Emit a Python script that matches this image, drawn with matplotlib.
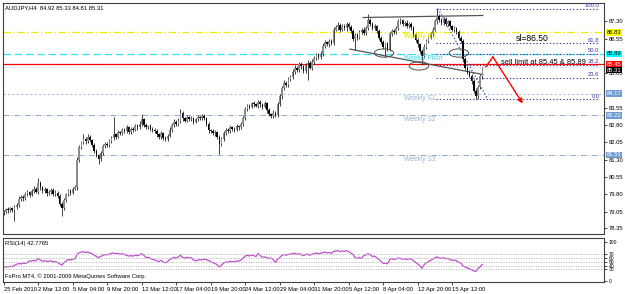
import numpy as np
import matplotlib
matplotlib.use("Agg")
import matplotlib.pyplot as plt
from matplotlib.patches import Ellipse
import matplotlib.transforms as mtrans

plt.rcParams['font.family'] = ['Liberation Sans', 'DejaVu Sans']

# ---- data (AUDJPY H4) ----
closes = [
    79.05, 79.15, 79.10, 79.20, 79.12, 79.25, 79.35, 79.60, 79.70, 79.62,
    79.80, 79.90, 79.78, 79.95, 80.05, 79.92, 80.30, 80.10, 79.95, 80.02,
    79.85, 79.90, 80.00, 79.80, 79.88, 79.75, 79.40, 79.20, 79.55, 79.80,
    79.95, 79.88, 80.05, 80.10, 81.30, 81.85, 82.05, 82.20, 82.10, 82.30,
    82.15, 81.95, 81.70, 81.50, 81.35, 81.60, 81.90, 82.00, 81.95, 82.10,
    82.25, 82.40, 82.30, 82.50, 82.45, 82.60, 82.55, 82.70, 82.50, 82.65,
    82.60, 82.75, 82.70, 82.85, 83.05, 82.80, 82.70, 82.75, 82.65, 82.60,
    82.55, 82.40, 82.30, 82.45, 82.25, 82.20, 82.35, 82.60, 82.80, 82.95,
    82.85, 83.00, 83.35, 83.10, 83.00, 83.15, 83.05, 83.10, 82.95, 83.05,
    83.15, 83.10, 83.20, 83.10, 82.85, 82.60, 82.55, 82.45, 82.50, 82.30,
    82.00, 82.20, 82.45, 82.60, 82.55, 82.70, 82.65, 82.60, 82.75, 82.70,
    82.85, 83.10, 83.50, 83.65, 83.60, 83.75, 83.70, 83.65, 83.80, 83.70,
    83.60, 83.75, 83.45, 83.30, 83.20, 83.35, 83.25, 83.70, 84.05, 84.40,
    84.65, 84.55, 84.80, 84.90, 85.10, 85.30, 85.20, 85.45, 85.35, 85.15,
    85.40, 85.50, 85.30, 85.55, 85.70, 85.85, 85.75, 85.90, 86.25, 86.40,
    86.30, 86.45, 86.35, 86.95, 87.05, 87.15, 86.95, 87.10, 87.00, 87.20,
    87.05, 86.90, 86.55, 86.70, 86.60, 86.85, 86.95, 86.80, 87.00, 87.35,
    87.20, 87.00, 87.10, 86.90, 86.60, 86.40, 86.20, 86.35, 86.10, 86.75,
    86.90, 86.85, 87.00, 87.30, 87.35, 87.20, 87.25, 87.10, 87.20, 87.05,
    86.75, 86.50, 86.30, 86.00, 85.80, 86.20, 86.45, 86.60, 86.75, 86.95,
    87.30, 87.55, 87.35, 87.25, 87.40, 87.20, 87.30, 87.10, 86.95, 87.00,
    86.85, 86.60, 86.45, 85.65, 85.30, 85.10, 84.95, 84.70, 84.30, 84.05,
    84.45, 84.92, 85.31]
first_open = 79.00

# wick lengths above / below the body, in hundredths of a yen
wick_up = [
    8, 6, 9, 5, 7, 10, 6, 12, 8, 7,
    9, 10, 6, 8, 12, 7, 20, 9, 6, 8,
    7, 10, 8, 6, 9, 5, 8, 6, 10, 7,
    8, 9, 6, 10, 12, 10, 8, 20, 9, 12,
    8, 6, 9, 7, 5, 10, 8, 9, 6, 11,
    8, 75, 7, 10, 6, 9, 8, 12, 7, 9,
    6, 10, 8, 11, 25, 7, 9, 6, 8, 5,
    7, 9, 6, 10, 5, 8, 7, 12, 9, 10,
    6, 11, 15, 8, 6, 10, 7, 9, 5, 8,
    10, 7, 9, 10, 6, 8, 5, 7, 9, 6,
    8, 10, 9, 7, 8, 10, 6, 9, 11, 7,
    9, 12, 10, 8, 9, 7, 10, 6, 9, 8,
    7, 10, 6, 8, 5, 9, 7, 12, 10, 9,
    11, 7, 10, 8, 12, 9, 7, 10, 8, 6,
    9, 11, 7, 10, 9, 8, 6, 12, 10, 9,
    7, 10, 8, 10, 9, 11, 7, 10, 8, 9,
    6, 8, 7, 10, 8, 9, 7, 10, 9, 27,
    8, 7, 10, 6, 8, 5, 9, 7, 6, 10,
    8, 9, 11, 10, 8, 7, 9, 10, 8, 6,
    7, 5, 8, 6, 9, 10, 8, 9, 11, 10,
    12, 31, 9, 10, 8, 9, 7, 8, 6, 9,
    7, 8, 6, 10, 9, 7, 8, 6, 9, 10,
    8, 9, 2]
wick_dn = [
    10, 8, 12, 7, 9, 47, 8, 10, 7, 9,
    8, 9, 10, 7, 9, 8, 10, 12, 9, 8,
    10, 7, 9, 8, 6, 10, 9, 35, 8, 10,
    7, 9, 8, 6, 12, 10, 9, 8, 10, 7,
    9, 8, 12, 10, 25, 9, 8, 7, 10, 9,
    8, 9, 10, 7, 9, 8, 10, 7, 9, 8,
    10, 7, 9, 8, 10, 9, 7, 8, 10, 9,
    8, 10, 12, 9, 10, 8, 9, 7, 8, 9,
    10, 8, 9, 10, 8, 7, 9, 8, 10, 7,
    9, 8, 7, 9, 10, 12, 8, 9, 10, 12,
    45, 10, 9, 8, 10, 7, 9, 8, 7, 9,
    8, 10, 9, 8, 10, 7, 9, 8, 10, 9,
    8, 7, 10, 12, 9, 8, 10, 9, 8, 10,
    9, 8, 10, 9, 8, 10, 9, 8, 12, 10,
    9, 63, 8, 9, 10, 8, 9, 7, 10, 9,
    8, 10, 9, 8, 7, 10, 12, 8, 9, 10,
    8, 9, 10, 47, 9, 8, 10, 7, 9, 8,
    10, 9, 8, 10, 12, 9, 10, 45, 10, 8,
    9, 8, 10, 7, 9, 8, 10, 9, 8, 10,
    12, 10, 9, 8, 40, 9, 8, 10, 7, 9,
    8, 10, 7, 9, 10, 8, 9, 10, 8, 9,
    10, 9, 8, 12, 10, 9, 8, 10, 9, 13,
    10, 8, 11]

rsi = [
    36, 37, 36, 38, 37, 40, 43, 45, 44, 46,
    45, 48, 52, 51, 53, 52, 58, 54, 51, 52,
    50, 51, 52, 49, 50, 48, 44, 41, 47, 52,
    55, 54, 56, 57, 68, 73, 74, 75, 73, 74,
    72, 70, 66, 63, 60, 63, 66, 68, 67, 69,
    71, 72, 70, 71, 69, 70, 68, 66, 64, 65,
    64, 66, 65, 67, 70, 66, 60, 61, 58, 56,
    54, 52, 50, 53, 49, 47, 50, 55, 58, 61,
    58, 62, 66, 61, 58, 61, 59, 60, 54, 52,
    53, 55, 54, 56, 55, 53, 50, 47, 45, 42,
    36, 41, 46, 49, 48, 51, 50, 49, 52, 51,
    54, 59, 64, 66, 64, 67, 65, 63, 71, 65,
    61, 62, 60, 58, 59, 55, 48, 55, 60, 66,
    68, 66, 68, 69, 70, 71, 68, 70, 68, 65,
    68, 69, 66, 69, 70, 72, 70, 71, 73, 74,
    72, 73, 71, 76, 77, 78, 75, 77, 76, 78,
    75, 72, 68, 60, 58, 60, 58, 65, 67, 70,
    67, 63, 64, 60, 55, 51, 45, 46, 44, 55,
    58, 55, 57, 59, 58, 56, 57, 55, 57, 57,
    52, 48, 44, 39, 33, 42, 47, 50, 53, 56,
    60, 62, 59, 58, 60, 57, 58, 55, 53, 54,
    52, 48, 46, 39, 36, 34, 32, 29, 26, 25,
    33, 37, 42.78]

date_labels = ["25 Feb 2010", "2 Mar 12:00", "5 Mar 04:00", "9 Mar 20:00",
               "12 Mar 12:00", "17 Mar 04:00", "19 Mar 20:00", "24 Mar 12:00",
               "29 Mar 04:00", "31 Mar 20:00", "5 Apr 12:00", "8 Apr 04:00",
               "12 Apr 20:00", "15 Apr 12:00"]
bars_per_label = 16

price_ticks = [87.30, 86.55, 85.05, 83.55, 82.80, 82.05, 81.30, 80.55, 79.80, 79.05, 78.35]

# weekly pivots
r1, pivot, s1, s2, s3 = 86.83, 85.89, 84.17, 83.23, 81.51
sell_level, bid = 85.45, 85.31
# fibo retracement
fib_hi, fib_lo = 87.86, 83.92
fib_levels = [100.0, 61.8, 50.0, 38.2, 23.6, 0.0]

small = 4.2

# ---- figure ----
fig = plt.figure(figsize=(6.25, 2.94), dpi=100)
ax = fig.add_axes([3/625, 60/294, 601/625, 231/294])
rax = fig.add_axes([3/625, 12/294, 601/625, 44/294], sharex=ax)

n = len(closes)
x = np.arange(n)
c = np.array(closes)
o = np.concatenate([[first_open], c[:-1]])
hi = np.maximum(o, c) + np.array(wick_up) / 100
lo = np.minimum(o, c) - np.array(wick_dn) / 100
bull = c >= o

ax.vlines(x, lo, hi, color='#222222', lw=0.6, zorder=3)
body = np.maximum(np.abs(c - o), 0.03)
ax.bar(x, body, bottom=np.minimum(o, c), width=0.72,
       color=np.where(bull, '#8c8c8c', '#000000'), lw=0, zorder=4)

ax.set_xlim(-0.3, 278.4)
ax.set_ylim(78.08, 88.10)

# horizontal levels
ax.axhline(r1, color='#eeee00', ls=(0, (6, 2, 1, 2)), lw=0.9, zorder=2)
ax.axhline(pivot, color='#33e0f0', ls=(0, (6, 3)), lw=0.9, zorder=2)
ax.axhline(sell_level, color='#ff0000', lw=0.9, zorder=2)
ax.axhline(bid, color='#c4cad8', ls=':', lw=0.7, zorder=2)
ax.axhline(s1, color='#a9c2e2', ls=(0, (2, 2)), lw=0.8, zorder=2)
ax.axhline(s2, color='#8fabcc', ls=(0, (6, 2, 1, 2)), lw=0.7, zorder=2)
ax.axhline(s3, color='#8fabcc', ls=(0, (6, 2, 1, 2)), lw=0.7, zorder=2)

for txt, lvl, col in [("Weekly R1", r1, '#e2e200'), ("Weekly Pivot", pivot, '#30d8e8'),
                      ("Weekly S1", s1, '#9ab4d6'), ("Weekly S2", s2, '#9ab4d6'),
                      ("Weekly S3", s3, '#9ab4d6')]:
    ax.text(185.5, lvl - 0.04, txt, color=col, fontsize=4.8, va='top', ha='left', zorder=5)

# fibonacci
fx0, fx1 = 200.5, 276.0
for lv in fib_levels:
    p = fib_lo + (fib_hi - fib_lo) * lv / 100
    ax.plot([fx0, fx1], [p, p], color='#3a3a9a', ls=(0, (1.2, 1.8)), lw=0.8, zorder=3)
    ax.text(fx1 + 0.3, p + 0.02, f"{lv:.1f}", color='#3a3a9a', fontsize=small,
            ha='right', va='bottom', zorder=5)
ax.plot([201.4, 224.5], [fib_hi, fib_lo], color='#3a3a9a', ls=(0, (1.2, 1.8)), lw=0.8, zorder=3)

# trend lines
ax.plot([166.7, 222.2], [87.47, 87.56], color='#555555', lw=0.9, zorder=3)
ax.plot([160.6, 222.2], [86.10, 85.00], color='#555555', lw=0.9, zorder=3)
for ex, ey in [(176.4, 85.93), (192.6, 85.37), (211.1, 85.93)]:
    ax.add_patch(Ellipse((ex, ey), 9.0, 0.36, fill=False, ec='#505050', lw=0.7, zorder=5))

# trade idea
ax.plot([223.6, 226.9], [85.33, 85.76], color='#ff0000', lw=1.0, zorder=6)
ax.annotate('', xy=(240.7, 83.74), xytext=(226.9, 85.76),
            arrowprops=dict(arrowstyle='-|>', color='#ff0000', lw=1.0,
                            mutation_scale=7, shrinkA=0, shrinkB=0), zorder=6)
ax.text(237.5, 86.55, "sl=86.50", fontsize=6.2, color='black', va='center', zorder=6)
ax.text(230.5, 85.50, "sell limit at 85.45 & 85.89", fontsize=5.4, color='black',
        va='center', zorder=6)

ax.text(0.003, 0.99, "AUDJPY,H4  84.92 85.33 84.81 85.31", transform=ax.transAxes,
        fontsize=small, va='top', ha='left')

# right price scale
ax.yaxis.tick_right()
ax.set_yticks(price_ticks)
ax.set_yticklabels([f"{t:.2f}" for t in price_ticks])
ax.tick_params(axis='y', labelsize=small, length=2, pad=1.5, width=0.5)
ax.tick_params(axis='x', bottom=False, labelbottom=False)

tr = mtrans.blended_transform_factory(ax.transAxes, ax.transData)
for val, fc, tc in [(r1, '#ffff00', 'black'), (pivot, '#00ffff', 'black'),
                    (sell_level, '#ff0000', 'white'), (s1, '#6f9bd0', 'white'),
                    (s2, '#6f9bd0', 'white'), (s3, '#6f9bd0', 'white')]:
    ax.text(1.004, val, f"{val:.2f}", transform=tr, fontsize=small, color=tc, va='center',
            ha='left', clip_on=False, zorder=10,
            bbox=dict(boxstyle='square,pad=0.15', fc=fc, ec='none'))
ax.text(1.004, bid - 0.12, f"{bid:.2f}", transform=tr, fontsize=small, color='white',
        va='center', ha='left', clip_on=False, zorder=9,
        bbox=dict(boxstyle='square,pad=0.15', fc='black', ec='none'))

# ---- RSI ----
rax.plot(x, rsi, color='#c04cd0', lw=0.9)
for lv in [70, 60, 50, 40, 30]:
    rax.axhline(lv, color='#b8b8b8', ls=(0, (1.5, 1.5)), lw=0.6)
rax.set_ylim(-2, 110)
rax.yaxis.tick_right()
rax.set_yticks([100, 70, 60, 50, 40, 30, 0])
rax.set_yticklabels(["100", "70", "60", "50", "40", "30", "0"])
rax.tick_params(axis='y', labelsize=3.6, length=2, pad=1.5, width=0.5)
rax.set_xticks(np.arange(len(date_labels)) * bars_per_label)
rax.set_xticklabels(date_labels, ha='left')
rax.tick_params(axis='x', labelsize=small, length=2, pad=1.5, width=0.5)
rax.text(0.003, 0.93, "RSI(14) 42.7765", transform=rax.transAxes, fontsize=small, va='top')
rax.text(0.003, 0.06, "FxPro MT4, © 2001-2009 MetaQuotes Software Corp.",
         transform=rax.transAxes, fontsize=small, va='bottom')

for a in (ax, rax):
    for s in a.spines.values():
        s.set_color('#404040')
        s.set_linewidth(0.8)

fig.savefig('out.png', dpi=100)
